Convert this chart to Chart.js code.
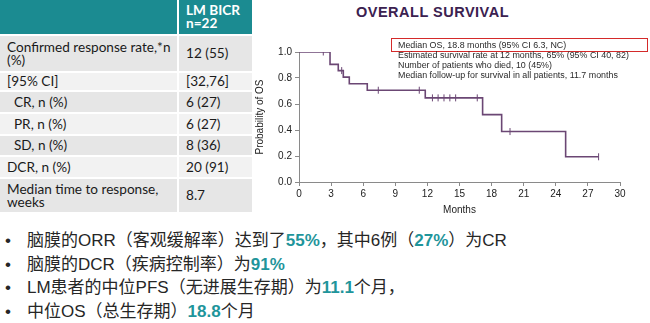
<!DOCTYPE html>
<html>
<head>
  <meta charset="utf-8">
  <title>LM BICR overall survival</title>
  <script src="https://cdn.jsdelivr.net/npm/chart.js"></script>
  <style>
    body { margin: 0; width: 650px; height: 323px; background: #fff; position: relative; overflow: hidden; font-family: Lato, Arial, sans-serif; }
    table { position: absolute; left: -2px; top: -2px; border-collapse: collapse; }
    td { border: 2px solid #fff; padding: 0 0 0 7px; font-size: 13.6px; color: #1a1a1a; line-height: 13px; box-sizing: border-box; }
    tr.head td { background: #1b8b91; color: #fff; font-weight: bold; }
    tr.a td { background: #e6e6e6; }
    tr.b td { background: #f2f2f2; }
    #title { position: absolute; left: 356px; top: 4px; font: bold 14.5px "Liberation Sans", Arial; color: #3b2150; letter-spacing: 0.5px; }
    #notes { position: absolute; left: 398px; top: 41px; font: 8.9px "Liberation Sans", Arial; color: #2a2a2a; line-height: 9.9px; white-space: nowrap; }
    #medianBox { position: absolute; left: 391px; top: 38px; width: 255px; height: 12px; border: 1.5px solid #d42a2a; }
    #chartBox { position: absolute; left: 250px; top: 40px; width: 400px; height: 180px; }
    ul { position: absolute; left: 0; top: 229px; margin: 0; padding: 0; list-style: none; font-family: "Liberation Sans", "Noto Sans CJK SC", sans-serif; font-size: 17px; color: #262626; }
    li { height: 23.5px; line-height: 23.5px; padding-left: 27px; position: relative; white-space: nowrap; }
    li::before { content: "•"; position: absolute; left: 5px; }
    b { color: #1f959b; }
  </style>
</head>
<body>

<table>
  <tr class="head" style="height:36px"><td style="width:179px"></td><td style="width:75px">LM BICR<br>n=22</td></tr>
  <tr class="a" style="height:37px"><td>Confirmed response rate,*n<br>(%)</td><td>12 (55)</td></tr>
  <tr class="b" style="height:19px"><td>[95% CI]</td><td>[32,76]</td></tr>
  <tr class="a" style="height:22px"><td>&nbsp; CR, n (%)</td><td>6 (27)</td></tr>
  <tr class="b" style="height:22px"><td>&nbsp; PR, n (%)</td><td>6 (27)</td></tr>
  <tr class="a" style="height:21px"><td>&nbsp; SD, n (%)</td><td>8 (36)</td></tr>
  <tr class="b" style="height:22px"><td>DCR, n (%)</td><td>20 (91)</td></tr>
  <tr class="a" style="height:35px"><td>Median time to response,<br>weeks</td><td>8.7</td></tr>
</table>

<div id="title">OVERALL SURVIVAL</div>
<div id="chartBox"><canvas id="osChart"></canvas></div>
<div id="medianBox"></div>
<div id="notes">
  Median OS, 18.8 months (95% CI 6.3, NC)<br>
  Estimated survival rate at 12 months, 65% (95% CI 40, 82)<br>
  Number of patients who died, 10 (45%)<br>
  Median follow-up for survival in all patients, 11.7 months
</div>

<ul>
  <li>脑膜的ORR（客观缓解率）达到了<b>55%</b>，其中6例（<b>27%</b>）为CR</li>
  <li>脑膜的DCR（疾病控制率）为<b>91%</b></li>
  <li>LM患者的中位PFS（无进展生存期）为<b>11.1</b>个月，</li>
  <li>中位OS（总生存期）<b>18.8</b>个月</li>
</ul>

<script>
  // Kaplan-Meier steps: event times (months) and survival after each event
  const eventMonths = [0, 2.9, 3.67, 4.14, 4.7, 6.38, 11.8, 17.16, 18.94, 24.92, 28.0];
  const survival = [1.0, 0.905, 0.857, 0.807, 0.756, 0.706, 0.647, 0.518, 0.388, 0.194, 0.194];

  // censored patients
  const censorMonths = [2.27, 3.99, 7.41, 11.24, 12.47, 13.0, 13.55, 14.1, 14.64, 16.66, 19.72, 28.0];
  const censorSurvival = [1.0, 0.857, 0.706, 0.706, 0.647, 0.647, 0.647, 0.647, 0.647, 0.647, 0.388, 0.194];

  const xTicks = [0, 3, 6, 9, 12, 15, 18, 21, 24, 27, 30];
  const yTicks = [0, 0.2, 0.4, 0.6, 0.8, 1.0];

  const lineColor = '#6b4774';
  const axisColor = '#8a8a8a';
  const tickFont = { family: 'Liberation Sans', size: 10 };

  new Chart(document.getElementById('osChart'), {
    type: 'scatter',
    data: {
      datasets: [
        {
          data: eventMonths.map((m, i) => ({ x: m, y: survival[i] })),
          showLine: true,
          stepped: true,
          borderColor: lineColor,
          borderWidth: 1.6,
          pointRadius: 0
        },
        {
          data: censorMonths.map((m, i) => ({ x: m, y: censorSurvival[i] })),
          pointStyle: 'line',
          rotation: 90,
          pointRadius: 3.5,
          borderColor: lineColor,
          borderWidth: 1
        }
      ]
    },
    options: {
      responsive: true,
      maintainAspectRatio: false,
      animation: false,
      layout: { padding: { top: 12, right: 30 } },
      plugins: { legend: { display: false }, tooltip: { enabled: false } },
      scales: {
        x: {
          type: 'linear', min: 0, max: 30,
          afterBuildTicks: s => { s.ticks = xTicks.map(v => ({ value: v })); },
          afterFit: s => { s.height = 38; },
          grid: { drawOnChartArea: false, tickLength: 4, color: axisColor },
          border: { color: axisColor },
          ticks: { font: tickFont, color: '#222', padding: 2, maxRotation: 0 },
          title: { display: true, text: 'Months', font: tickFont, color: '#222', padding: { top: 2 } }
        },
        y: {
          min: 0, max: 1,
          afterBuildTicks: s => { s.ticks = yTicks.map(v => ({ value: v })); },
          afterFit: s => { s.width = 49; },
          grid: { drawOnChartArea: false, tickLength: 4, color: axisColor },
          border: { color: axisColor },
          ticks: { font: tickFont, color: '#222', padding: 3, callback: v => v.toFixed(1) },
          title: { display: true, text: 'Probability of OS', font: tickFont, color: '#222', padding: { bottom: 6 } }
        }
      }
    }
  });
</script>

</body>
</html>
